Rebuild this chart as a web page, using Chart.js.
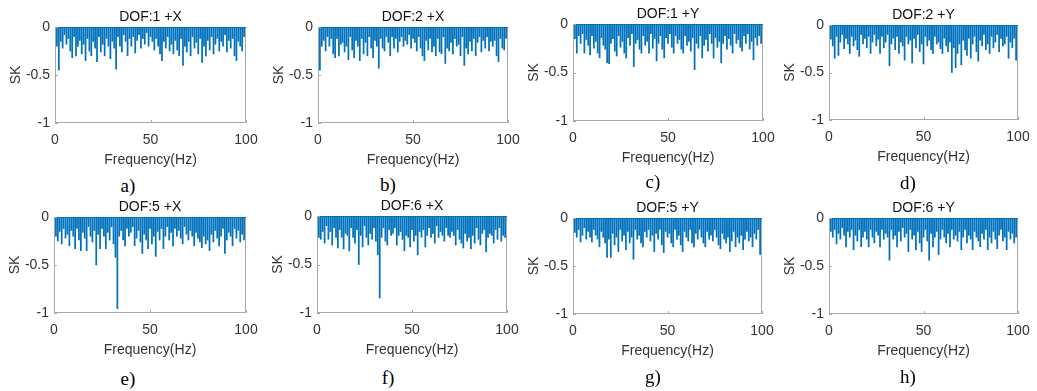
<!DOCTYPE html>
<html>
<head>
<meta charset="utf-8">
<script src="https://cdn.jsdelivr.net/npm/chart.js@4.4.1/dist/chart.umd.min.js"></script>
<style>
  html, body { margin:0; padding:0; background:#fff; }
  body { width:1037px; height:391px; position:relative; overflow:hidden; }
  canvas { position:absolute; }
  .ttl { position:absolute; font-family:"Liberation Sans", Arial, sans-serif; font-size:14px; color:#111; transform:translate(-50%,-50%); white-space:nowrap; }
  .lab { position:absolute; font-family:"Liberation Serif", "Times New Roman", serif; font-size:19px; color:#000; transform:translate(-50%,-50%); white-space:nowrap; }
</style>
</head>
<body>
<script>
const freq = [0,1,2,3,4,5,6,7,8,9,10,11,12,13,14,15,16,17,18,19,20,21,22,23,24,25,26,27,28,29,30,31,32,33,34,35,36,37,38,39,40,41,42,43,44,45,46,47,48,49,50,51,52,53,54,55,56,57,58,59,60,61,62,63,64,65,66,67,68,69,70,71,72,73,74,75,76,77,78,79,80,81,82,83,84,85,86,87,88,89,90,91,92,93,94,95,96,97,98,99,100];
const xTicks = [0, 50, 100];
const yTicks = [-1, -0.5, 0];
const titles = ["DOF:1 +X","DOF:2 +X","DOF:1 +Y","DOF:2 +Y","DOF:5 +X","DOF:6 +X","DOF:5 +Y","DOF:6 +Y"];
const subLabels = ["a)","b)","c)","d)","e)","f)","g)","h)"];

const skA = [-0.35,-0.2,-0.45,-0.15,-0.22,-0.08,-0.18,-0.12,-0.25,-0.32,-0.1,-0.3,-0.2,-0.14,-0.28,-0.18,-0.35,-0.12,-0.25,-0.3,-0.15,-0.22,-0.36,-0.1,-0.26,-0.18,-0.3,-0.12,-0.2,-0.33,-0.15,-0.22,-0.44,-0.1,-0.2,-0.26,-0.08,-0.15,-0.3,-0.12,-0.2,-0.1,-0.27,-0.14,-0.08,-0.22,-0.12,-0.18,-0.06,-0.2,-0.1,-0.15,-0.24,-0.12,-0.2,-0.28,-0.35,-0.15,-0.22,-0.1,-0.25,-0.18,-0.28,-0.14,-0.24,-0.3,-0.12,-0.4,-0.2,-0.26,-0.15,-0.3,-0.1,-0.22,-0.16,-0.28,-0.12,-0.37,-0.2,-0.3,-0.14,-0.24,-0.1,-0.28,-0.18,-0.12,-0.25,-0.15,-0.2,-0.08,-0.26,-0.14,-0.22,-0.12,-0.3,-0.35,-0.15,-0.2,-0.25,-0.1,-0.32];
const skB = [-0.36,-0.45,-0.2,-0.14,-0.25,-0.1,-0.2,-0.12,-0.28,-0.32,-0.12,-0.3,-0.18,-0.16,-0.26,-0.2,-0.34,-0.1,-0.24,-0.32,-0.14,-0.2,-0.35,-0.12,-0.28,-0.16,-0.3,-0.1,-0.22,-0.32,-0.14,-0.2,-0.43,-0.12,-0.22,-0.25,-0.1,-0.16,-0.3,-0.1,-0.22,-0.12,-0.26,-0.15,-0.1,-0.2,-0.14,-0.18,-0.08,-0.22,-0.12,-0.16,-0.25,-0.1,-0.22,-0.3,-0.35,-0.14,-0.24,-0.12,-0.26,-0.2,-0.3,-0.12,-0.26,-0.28,-0.1,-0.38,-0.22,-0.25,-0.16,-0.28,-0.12,-0.2,-0.18,-0.3,-0.1,-0.4,-0.22,-0.28,-0.15,-0.25,-0.12,-0.3,-0.16,-0.1,-0.26,-0.14,-0.22,-0.1,-0.25,-0.15,-0.2,-0.14,-0.3,-0.36,-0.12,-0.22,-0.24,-0.12,-0.33];
const skC = [-0.28,-0.15,-0.3,-0.12,-0.2,-0.1,-0.3,-0.16,-0.22,-0.32,-0.12,-0.25,-0.18,-0.3,-0.35,-0.14,-0.22,-0.26,-0.4,-0.41,-0.2,-0.15,-0.28,-0.33,-0.12,-0.24,-0.18,-0.3,-0.35,-0.14,-0.22,-0.1,-0.44,-0.2,-0.16,-0.26,-0.3,-0.12,-0.22,-0.18,-0.3,-0.1,-0.25,-0.15,-0.38,-0.2,-0.12,-0.26,-0.35,-0.14,-0.2,-0.1,-0.24,-0.3,-0.12,-0.2,-0.16,-0.26,-0.3,-0.12,-0.22,-0.18,-0.28,-0.14,-0.47,-0.2,-0.25,-0.12,-0.35,-0.22,-0.16,-0.28,-0.1,-0.2,-0.35,-0.14,-0.24,-0.18,-0.4,-0.2,-0.12,-0.26,-0.15,-0.22,-0.3,-0.1,-0.2,-0.16,-0.24,-0.28,-0.12,-0.2,-0.1,-0.26,-0.18,-0.37,-0.14,-0.22,-0.12,-0.2,-0.28];
const skD = [-0.28,-0.15,-0.22,-0.35,-0.12,-0.32,-0.18,-0.1,-0.25,-0.14,-0.2,-0.3,-0.12,-0.22,-0.16,-0.26,-0.33,-0.1,-0.2,-0.14,-0.24,-0.12,-0.3,-0.18,-0.1,-0.22,-0.15,-0.3,-0.12,-0.24,-0.18,-0.1,-0.43,-0.2,-0.14,-0.26,-0.12,-0.3,-0.18,-0.22,-0.37,-0.12,-0.2,-0.16,-0.4,-0.14,-0.24,-0.1,-0.28,-0.2,-0.41,-0.12,-0.22,-0.16,-0.26,-0.3,-0.12,-0.2,-0.18,-0.25,-0.3,-0.14,-0.22,-0.28,-0.18,-0.5,-0.24,-0.45,-0.3,-0.2,-0.42,-0.16,-0.26,-0.32,-0.14,-0.35,-0.2,-0.12,-0.28,-0.38,-0.16,-0.22,-0.1,-0.26,-0.2,-0.3,-0.12,-0.24,-0.18,-0.1,-0.28,-0.14,-0.22,-0.2,-0.12,-0.35,-0.18,-0.24,-0.14,-0.37,-0.2];
const skE = [-0.33,-0.2,-0.25,-0.15,-0.28,-0.12,-0.22,-0.18,-0.3,-0.14,-0.2,-0.33,-0.12,-0.24,-0.35,-0.16,-0.22,-0.35,-0.1,-0.2,-0.26,-0.14,-0.5,-0.18,-0.33,-0.12,-0.2,-0.33,-0.16,-0.24,-0.1,-0.28,-0.42,-0.955,-0.2,-0.14,-0.24,-0.3,-0.12,-0.2,-0.16,-0.1,-0.3,-0.22,-0.14,-0.26,-0.38,-0.18,-0.24,-0.33,-0.12,-0.28,-0.2,-0.41,-0.15,-0.24,-0.12,-0.33,-0.2,-0.1,-0.24,-0.16,-0.3,-0.12,-0.2,-0.14,-0.22,-0.28,-0.1,-0.18,-0.24,-0.14,-0.2,-0.3,-0.16,-0.22,-0.26,-0.32,-0.2,-0.28,-0.24,-0.35,-0.18,-0.26,-0.14,-0.22,-0.3,-0.2,-0.12,-0.38,-0.24,-0.16,-0.2,-0.3,-0.12,-0.22,-0.14,-0.26,-0.18,-0.24,-0.38];
const skF = [-0.33,-0.22,-0.24,-0.16,-0.28,-0.1,-0.24,-0.16,-0.3,-0.12,-0.22,-0.33,-0.14,-0.22,-0.34,-0.18,-0.2,-0.36,-0.12,-0.22,-0.28,-0.14,-0.5,-0.2,-0.32,-0.1,-0.22,-0.3,-0.18,-0.24,-0.12,-0.26,-0.4,-0.845,-0.22,-0.12,-0.26,-0.3,-0.14,-0.2,-0.18,-0.12,-0.3,-0.2,-0.16,-0.24,-0.36,-0.2,-0.22,-0.32,-0.14,-0.26,-0.2,-0.4,-0.16,-0.22,-0.14,-0.32,-0.2,-0.12,-0.22,-0.18,-0.28,-0.1,-0.22,-0.16,-0.2,-0.26,-0.12,-0.2,-0.22,-0.16,-0.2,-0.3,-0.14,-0.24,-0.28,-0.33,-0.18,-0.26,-0.22,-0.34,-0.2,-0.28,-0.12,-0.24,-0.3,-0.18,-0.14,-0.37,-0.22,-0.18,-0.2,-0.28,-0.14,-0.24,-0.12,-0.26,-0.2,-0.22,-0.38];
const skG = [-0.33,-0.15,-0.2,-0.12,-0.25,-0.18,-0.1,-0.22,-0.14,-0.2,-0.25,-0.12,-0.18,-0.22,-0.3,-0.14,-0.2,-0.26,-0.41,-0.22,-0.41,-0.16,-0.28,-0.2,-0.35,-0.12,-0.24,-0.18,-0.33,-0.14,-0.26,-0.2,-0.43,-0.12,-0.22,-0.18,-0.26,-0.3,-0.14,-0.2,-0.12,-0.24,-0.18,-0.35,-0.16,-0.22,-0.12,-0.28,-0.36,-0.14,-0.2,-0.16,-0.26,-0.3,-0.12,-0.22,-0.18,-0.28,-0.35,-0.14,-0.2,-0.24,-0.12,-0.26,-0.3,-0.16,-0.22,-0.12,-0.2,-0.26,-0.3,-0.14,-0.22,-0.18,-0.24,-0.12,-0.2,-0.28,-0.32,-0.16,-0.22,-0.26,-0.2,-0.35,-0.24,-0.14,-0.3,-0.2,-0.26,-0.18,-0.33,-0.22,-0.14,-0.24,-0.2,-0.3,-0.16,-0.22,-0.12,-0.38,-0.26];
const skH = [-0.25,-0.14,-0.2,-0.12,-0.27,-0.16,-0.22,-0.1,-0.18,-0.3,-0.14,-0.2,-0.12,-0.33,-0.18,-0.24,-0.12,-0.3,-0.2,-0.14,-0.22,-0.3,-0.12,-0.2,-0.26,-0.14,-0.18,-0.3,-0.12,-0.22,-0.16,-0.2,-0.44,-0.12,-0.22,-0.18,-0.3,-0.14,-0.24,-0.1,-0.2,-0.16,-0.35,-0.12,-0.22,-0.18,-0.33,-0.14,-0.26,-0.35,-0.2,-0.12,-0.24,-0.44,-0.16,-0.3,-0.2,-0.14,-0.38,-0.22,-0.12,-0.2,-0.26,-0.16,-0.3,-0.12,-0.22,-0.18,-0.24,-0.14,-0.33,-0.2,-0.12,-0.26,-0.18,-0.22,-0.33,-0.14,-0.2,-0.24,-0.3,-0.16,-0.22,-0.12,-0.33,-0.2,-0.26,-0.14,-0.22,-0.32,-0.18,-0.12,-0.24,-0.2,-0.33,-0.14,-0.22,-0.16,-0.26,-0.2,-0.4];

const series = [skA, skB, skC, skD, skE, skF, skG, skH];

// plot-area boxes: [left, top, right, bottom]
const boxes = [
  [55,27,246,123],[318,27,508,123],[573,24,763,121],[829,25,1018,120],
  [54,217,246,313],[317,216,507,313],[573,218,762,314],[829,218,1018,314]
];
const labelPos = [[128,186],[388,185],[653,182],[908,183],[128,379],[388,378],[653,377],[908,377]];

const LEFT = 55, TOP = 10, RIGHT = 16, BOTTOM = 50;
const lineColor = '#0072BD';
const boxColor = '#a8a8a8';
const tickColor = '#333333';

const framePlugin = {
  id: 'frame',
  afterDatasetsDraw(chart) {
    const {ctx, chartArea: a, scales} = chart;
    ctx.save();
    ctx.lineWidth = 1;
    ctx.strokeStyle = boxColor;
    ctx.beginPath();
    ctx.moveTo(a.left + 0.5, a.top); ctx.lineTo(a.left + 0.5, a.bottom - 0.5);
    ctx.lineTo(a.right - 0.5, a.bottom - 0.5); ctx.lineTo(a.right - 0.5, a.top);
    ctx.stroke();
    ctx.strokeStyle = lineColor;
    ctx.beginPath();
    ctx.moveTo(a.left, a.top + 0.5); ctx.lineTo(a.right, a.top + 0.5);
    ctx.stroke();
    ctx.strokeStyle = boxColor;
    ctx.beginPath();
    xTicks.forEach(v => {
      const x = Math.round(scales.x.getPixelForValue(v)) + 0.5;
      ctx.moveTo(x, a.bottom); ctx.lineTo(x, a.bottom - 3);
    });
    yTicks.forEach(v => {
      const y = Math.round(scales.y.getPixelForValue(v)) + 0.5;
      ctx.moveTo(a.left, y); ctx.lineTo(a.left + 3, y);
    });
    ctx.stroke();
    ctx.restore();
  }
};

const font = { family: '"Liberation Sans", Arial, sans-serif', size: 14 };

series.forEach((vals, i) => {
  const [l, t, r, b] = boxes[i];
  const cv = document.createElement('canvas');
  const w = (r - l) + LEFT + RIGHT, h = (b - t) + TOP + BOTTOM;
  cv.width = w; cv.height = h;
  cv.style.left = (l - LEFT) + 'px';
  cv.style.top = (t - TOP) + 'px';
  cv.style.width = w + 'px'; cv.style.height = h + 'px';
  document.body.appendChild(cv);

  const pts = vals.map((v, k) => ({ x: freq[k], y: v }));

  new Chart(cv, {
    type: 'bar',
    data: { datasets: [{ data: pts, backgroundColor: lineColor, borderWidth: 0, barThickness: 1.1 }] },
    options: {
      responsive: false, animation: false, devicePixelRatio: 1,
      layout: { padding: { left: 0, top: TOP, right: RIGHT, bottom: 0 } },
      plugins: { legend: { display: false }, tooltip: { enabled: false }, title: { display: false } },
      scales: {
        x: {
          type: 'linear', min: 0, max: 100, offset: false,
          afterFit: s => { s.height = BOTTOM; s.paddingLeft = 0; s.paddingRight = 0; },
          afterBuildTicks: s => { s.ticks = xTicks.map(v => ({ value: v })); },
          grid: { display: false, drawTicks: false },
          border: { display: false },
          ticks: { color: tickColor, font, padding: 9, maxRotation: 0, autoSkip: false, callback: v => String(v) },
          title: { display: true, text: 'Frequency(Hz)', color: tickColor, font, padding: { top: 0, bottom: 4 } }
        },
        y: {
          type: 'linear', min: -1, max: 0,
          afterFit: s => { s.width = LEFT; s.paddingTop = 0; s.paddingBottom = 0; },
          afterBuildTicks: s => { s.ticks = yTicks.map(v => ({ value: v })); },
          grid: { display: false, drawTicks: false },
          border: { display: false },
          ticks: { color: tickColor, font, padding: 5, autoSkip: false, callback: v => String(v) },
          title: { display: true, text: 'SK', color: tickColor, font, padding: { top: 8, bottom: 0 } }
        }
      }
    },
    plugins: [framePlugin]
  });

  const tt = document.createElement('div');
  tt.className = 'ttl';
  tt.textContent = titles[i];
  tt.style.left = ((l + r) / 2) + 'px';
  tt.style.top = (t - 11) + 'px';
  document.body.appendChild(tt);

  const lb = document.createElement('div');
  lb.className = 'lab';
  lb.textContent = subLabels[i];
  lb.style.left = labelPos[i][0] + 'px';
  lb.style.top = labelPos[i][1] + 'px';
  document.body.appendChild(lb);
});
</script>
</body>
</html>
